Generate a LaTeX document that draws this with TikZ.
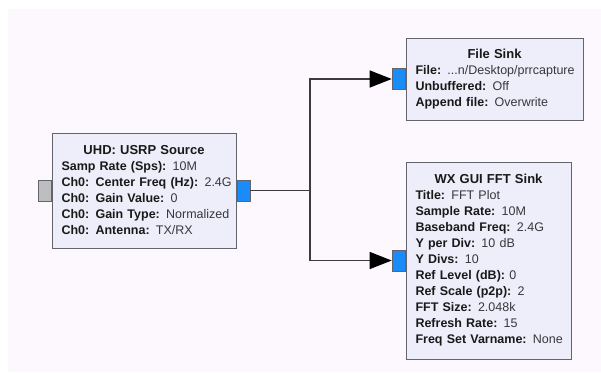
\documentclass[tikz,border=0pt]{standalone}
\usepackage{fontspec}
\setmainfont{Liberation Sans}
\usetikzlibrary{arrows.meta}

\definecolor{bgpink}{RGB}{253,248,253}
\definecolor{blockfill}{RGB}{238,238,251}
\definecolor{blockline}{RGB}{100,100,110}
\definecolor{portblue}{RGB}{25,140,250}
\definecolor{portgray}{RGB}{190,190,190}
\definecolor{wire}{RGB}{60,60,60}
\definecolor{valtext}{RGB}{55,55,60}

% one parameter line of a block
\newcommand{\prm}[2]{\mbox{\textbf{#1:} {\color{valtext}#2}}\par}
\newcommand{\blktitle}[1]{{\centering\fontsize{13}{16}\selectfont\bfseries #1\par}}

\tikzset{
  block/.style={draw=blockline, line width=1pt, fill=blockfill, inner xsep=9.5pt, inner ysep=0pt,
    font=\fontsize{12.5}{16}\selectfont\setlength{\parindent}{0pt}, text=black!90},
  port/.style={draw=blockline, line width=0.8pt, minimum width=13pt, minimum height=21pt, inner sep=0pt},
  outport/.style={port, fill=portblue},
  deadport/.style={port, fill=portgray},
  wire/.style={draw=wire, line width=1.3pt, -{Triangle[length=22pt,width=17pt,color=black]}}
}

\begin{document}
\begin{tikzpicture}[x=1pt, y=-1pt]
    \useasboundingbox[fill=white] (0,0) rectangle (601,372);
    \fill[bgpink] (8,9) rectangle (601,372);

    % source
    \node[block, minimum width=184pt, minimum height=115pt, text width=165pt] (src) at (144,190.5) {%
      \blktitle{UHD: USRP Source}\raggedright
      \prm{Samp Rate (Sps)}{10M}
      \prm{Ch0: Center Freq (Hz)}{2.4G}
      \prm{Ch0: Gain Value}{0}
      \prm{Ch0: Gain Type}{Normalized}
      \prm{Ch0: Antenna}{TX/RX}};
    \node[deadport, anchor=east] (srcin) at (src.west) {};
    \node[outport, anchor=west] (srcout) at (src.east) {};

    % sinks
    \node[block, minimum width=177pt, minimum height=82pt, text width=158pt] (file) at (494.5,79) {%
      \blktitle{File Sink}\raggedright
      \prm{File}{...n/Desktop/prrcapture}
      \prm{Unbuffered}{Off}
      \prm{Append file}{Overwrite}};
    \node[outport, anchor=east] (filein) at (file.west) {};

    \node[block, minimum width=165pt, minimum height=197pt, text width=146pt] (fft) at (488.5,260.5) {%
      \blktitle{WX GUI FFT Sink}\raggedright
      \prm{Title}{FFT Plot}
      \prm{Sample Rate}{10M}
      \prm{Baseband Freq}{2.4G}
      \prm{Y per Div}{10 dB}
      \prm{Y Divs}{10}
      \prm{Ref Level (dB)}{0}
      \prm{Ref Scale (p2p)}{2}
      \prm{FFT Size}{2.048k}
      \prm{Refresh Rate}{15}
      \prm{Freq Set Varname}{None}};
    \node[outport, anchor=east] (fftin) at (fft.west) {};

    % connections
    \coordinate (split) at (310,0);
    \draw[wire] (srcout.east) -- (srcout.east -| split) |- (filein.west);
    \draw[wire] (srcout.east -| split) |- (fftin.west);
\end{tikzpicture}
\end{document}
